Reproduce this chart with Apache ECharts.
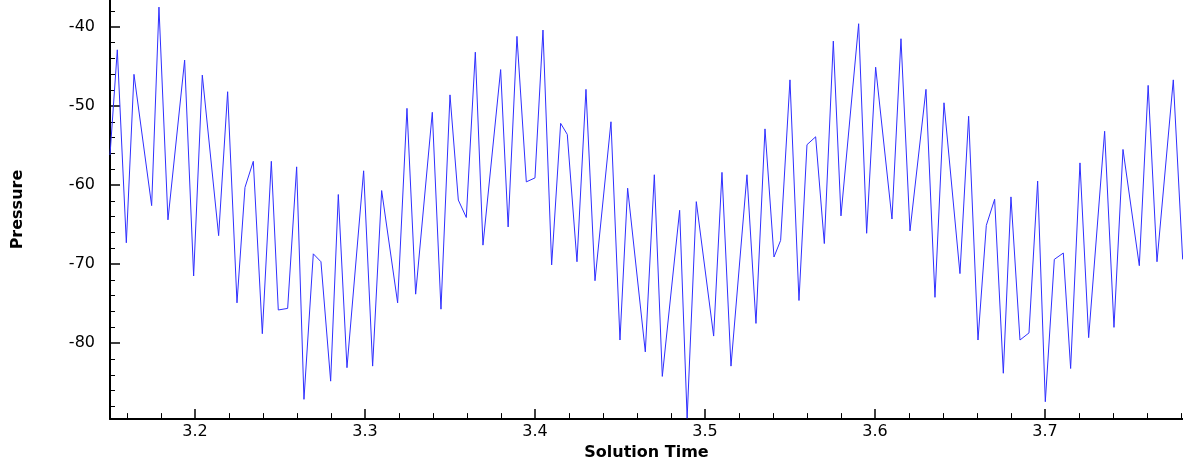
<!DOCTYPE html>
<html>
<head>
<meta charset="utf-8">
<script src="https://cdn.jsdelivr.net/npm/echarts@6/dist/echarts.min.js"></script>
<style>html,body{margin:0;padding:0;background:#fff}#c{width:1183px;height:466px}</style>
</head>
<body>
<div id="c"></div>
<script>
const times = [3.1500,3.1543,3.1596,3.1641,3.1745,3.1788,3.1841,3.1939,3.1992,3.2043,3.2139,3.2192,3.2247,3.2294,3.2343,3.2396,3.2449,3.2490,3.2545,3.2598,3.2641,3.2696,3.2741,3.2798,3.2843,3.2894,3.2992,3.3045,3.3098,3.3192,3.3247,3.3298,3.3396,3.3447,3.3500,3.3549,3.3596,3.3649,3.3694,3.3798,3.3842,3.3894,3.3949,3.4000,3.4047,3.4098,3.4151,3.4190,3.4247,3.4300,3.4353,3.4447,3.4500,3.4545,3.4649,3.4702,3.4749,3.4851,3.4895,3.4949,3.5051,3.5100,3.5153,3.5247,3.5300,3.5353,3.5406,3.5445,3.5500,3.5553,3.5600,3.5651,3.5702,3.5755,3.5800,3.5904,3.5951,3.6004,3.6100,3.6153,3.6206,3.6300,3.6353,3.6406,3.6500,3.6551,3.6606,3.6655,3.6704,3.6755,3.6800,3.6853,3.6906,3.6957,3.7002,3.7055,3.7108,3.7151,3.7206,3.7257,3.7351,3.7406,3.7459,3.7555,3.7607,3.7659,3.7755,3.7810];
const pressure = [-56.2,-42.9,-67.3,-46.0,-62.6,-37.5,-64.4,-44.2,-71.5,-46.1,-66.4,-48.2,-74.9,-60.3,-57.0,-78.8,-57.0,-75.8,-75.6,-57.7,-87.1,-68.7,-69.7,-84.8,-61.2,-83.1,-58.2,-82.9,-60.7,-74.9,-50.3,-73.8,-50.8,-75.7,-48.6,-61.9,-64.1,-43.2,-67.6,-45.4,-65.3,-41.2,-59.6,-59.1,-40.4,-70.1,-52.2,-53.6,-69.7,-47.9,-72.1,-52.0,-79.6,-60.4,-81.1,-58.7,-84.2,-63.2,-89.5,-62.1,-79.1,-58.4,-82.9,-58.7,-77.5,-52.9,-69.1,-67.0,-46.7,-74.6,-54.9,-53.9,-67.4,-41.8,-63.9,-39.6,-66.1,-45.1,-64.3,-41.5,-65.8,-47.9,-74.2,-49.6,-71.2,-51.3,-79.6,-65.1,-61.8,-83.8,-61.5,-79.6,-78.7,-59.5,-87.4,-69.4,-68.6,-83.2,-57.2,-79.3,-53.2,-78.0,-55.5,-70.2,-47.4,-69.7,-46.7,-69.4];
const xMajor = [3.2,3.3,3.4,3.5,3.6,3.7];
const xMinor = [3.16,3.18,3.22,3.24,3.26,3.28,3.32,3.34,3.36,3.38,3.42,3.44,3.46,3.48,3.52,3.54,3.56,3.58,3.62,3.64,3.66,3.68,3.72,3.74,3.76,3.78];
const yMajor = [-80,-70,-60,-50,-40];
const yMinor = [-88,-86,-84,-82,-78,-76,-74,-72,-68,-66,-64,-62,-58,-56,-54,-52,-48,-46,-44,-42,-38];
const xRange = [3.15, 3.7812];
const yRange = [-89.6, -36.6];

const chart = echarts.init(document.getElementById('c'), null, {renderer:'canvas'});
const font = 'DejaVu Sans, Verdana, sans-serif';
chart.setOption({
  animation:false,
  grid:{left:110,right:0,top:0,bottom:42,containLabel:false},
  xAxis:[{
    type:'value', min:xRange[0], max:xRange[1], position:'bottom',
    name:'Solution Time', nameLocation:'middle', nameGap:21,
    nameTextStyle:{fontFamily:font,fontSize:16,fontWeight:'bold',color:'#000'},
    axisLine:{show:true,lineStyle:{color:'#000',width:2}},
    axisTick:{show:true,inside:true,length:10,customValues:xMajor,lineStyle:{color:'#000',width:1.5}},
    axisLabel:{customValues:xMajor,fontFamily:font,fontSize:16,color:'#000',margin:5,formatter:v=>v.toFixed(1)},
    splitLine:{show:false}
  },{
    type:'value', min:xRange[0], max:xRange[1], position:'bottom',
    axisLine:{show:false},
    axisTick:{show:true,inside:true,length:6,customValues:xMinor,lineStyle:{color:'#000',width:1}},
    axisLabel:{show:false}, splitLine:{show:false}
  }],
  yAxis:[{
    type:'value', min:yRange[0], max:yRange[1], position:'left',
    name:'Pressure', nameLocation:'middle', nameGap:84,
    nameTextStyle:{fontFamily:font,fontSize:16,fontWeight:'bold',color:'#000'},
    axisLine:{show:true,lineStyle:{color:'#000',width:2}},
    axisTick:{show:true,inside:true,length:10,customValues:yMajor,lineStyle:{color:'#000',width:1.5}},
    axisLabel:{customValues:yMajor,fontFamily:font,fontSize:16,color:'#000',margin:15},
    splitLine:{show:false}
  },{
    type:'value', min:yRange[0], max:yRange[1], position:'left',
    axisLine:{show:false},
    axisTick:{show:true,inside:true,length:5,customValues:yMinor,lineStyle:{color:'#000',width:1}},
    axisLabel:{show:false}, splitLine:{show:false}
  }],
  series:[{
    type:'line', xAxisIndex:0, yAxisIndex:0,
    data: times.map((t,i)=>[t,pressure[i]]),
    showSymbol:false, symbol:'none',
    lineStyle:{color:'#2f2fff',width:1},
    clip:true
  }]
});
</script>
</body>
</html>
